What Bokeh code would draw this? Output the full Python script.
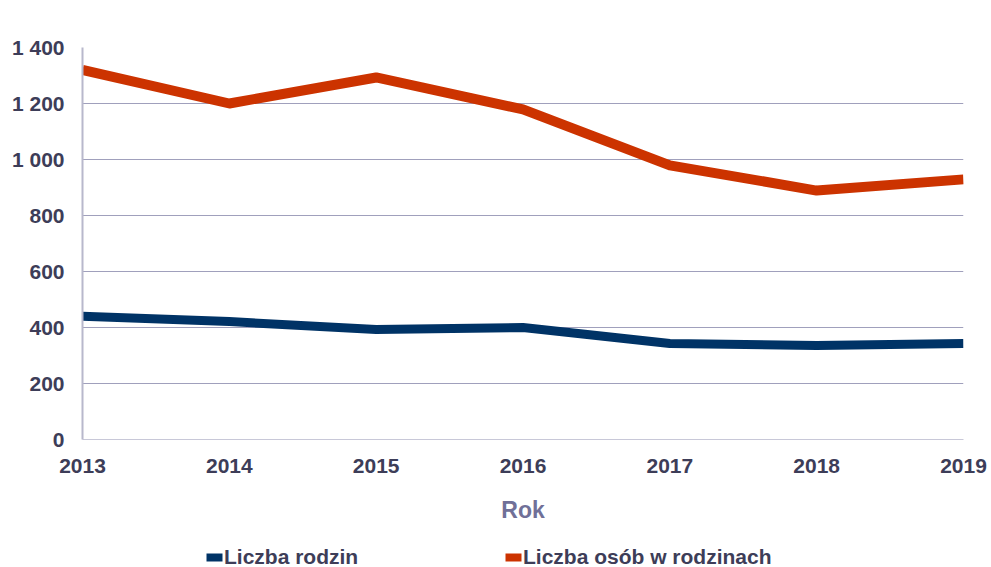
from bokeh.plotting import figure
from bokeh.layouts import column
from bokeh.models import Range1d, FixedTicker, Legend, LegendItem, ColumnDataSource
from bokeh.embed import file_html
from bokeh.resources import INLINE

years = [2013, 2014, 2015, 2016, 2017, 2018, 2019]
rodziny = [440, 421, 393, 400, 343, 336, 343]
osoby = [1320, 1200, 1293, 1179, 979, 889, 929]
y_ticks = [0, 200, 400, 600, 800, 1000, 1200, 1400]
y_tick_labels = ["0", "200", "400", "600", "800", "1 000", "1 200", "1 400"]
x_label = "Rok"
series_names = ["Liczba rodzin", "Liczba osób w rodzinach"]

BLUE = "#003366"
ORANGE = "#CC3300"
TEXT = "#3d3d58"
FONT = "Liberation Sans"

p = figure(width=991, height=535, output_backend="svg", toolbar_location=None,
           x_range=Range1d(2013, 2019), y_range=Range1d(0, 1400),
           min_border_left=82, min_border_right=28, min_border_top=47, min_border_bottom=96)
p.outline_line_color = None
p.background_fill_color = "white"

p.line(years, rodziny, line_color=BLUE, line_width=9, line_join="round")
p.line(years, osoby, line_color=ORANGE, line_width=10, line_join="round")

p.xaxis.ticker = FixedTicker(ticks=years)
p.yaxis.ticker = FixedTicker(ticks=y_ticks)
p.yaxis.major_label_overrides = {t: s for t, s in zip(y_ticks, y_tick_labels)}

for ax in (p.xaxis, p.yaxis):
    ax.major_tick_line_color = None
    ax.minor_tick_line_color = None
    ax.major_label_text_font = FONT
    ax.major_label_text_font_style = "bold"
    ax.major_label_text_font_size = "21px"
    ax.major_label_text_color = TEXT

p.yaxis.axis_line_color = "#b8b8cc"
p.yaxis.axis_line_width = 2
p.yaxis.major_label_standoff = 12
p.xaxis.axis_line_color = "#c8c8d8"
p.xaxis.axis_line_width = 1
p.xaxis.major_label_standoff = 13

p.xaxis.axis_label = x_label
p.xaxis.axis_label_text_font = FONT
p.xaxis.axis_label_text_font_style = "bold"
p.xaxis.axis_label_text_font_size = "23px"
p.xaxis.axis_label_text_color = "#707098"
p.xaxis.axis_label_standoff = 21

p.xgrid.grid_line_color = None
p.ygrid.grid_line_color = "#a0a0bc"
p.ygrid.grid_line_width = 1

# legend strip below the chart
lf = figure(width=991, height=32, output_backend="svg", toolbar_location=None,
            x_range=Range1d(0, 1), y_range=Range1d(0, 1),
            min_border=0, min_border_left=0, min_border_right=0,
            min_border_top=0, min_border_bottom=0)
lf.axis.visible = False
lf.grid.visible = False
lf.outline_line_color = None

# hidden (off-range) swatch glyphs used only as legend markers
swatch = ColumnDataSource(dict(l=[-3], r=[-2], t=[-2], b=[-3]))
q1 = lf.quad(left="l", right="r", top="t", bottom="b", source=swatch, fill_color=BLUE, line_color=None)
q2 = lf.quad(left="l", right="r", top="t", bottom="b", source=swatch, fill_color=ORANGE, line_color=None)

for item, rend, loc in ((series_names[0], q1, (122, -2)), (series_names[1], q2, (421, -2))):
    lg = Legend(items=[LegendItem(label=item, renderers=[rend])], location=loc,
                orientation="horizontal", padding=0, margin=0, spacing=0,
                label_standoff=0, glyph_width=20, glyph_height=10, label_height=20,
                border_line_color=None, background_fill_alpha=0,
                label_text_font=FONT, label_text_font_style="bold",
                label_text_font_size="21px", label_text_color=TEXT)
    lf.add_layout(lg, "center")

layout = column(p, lf, spacing=0)
open("out.html", "w").write(file_html(layout, INLINE))
